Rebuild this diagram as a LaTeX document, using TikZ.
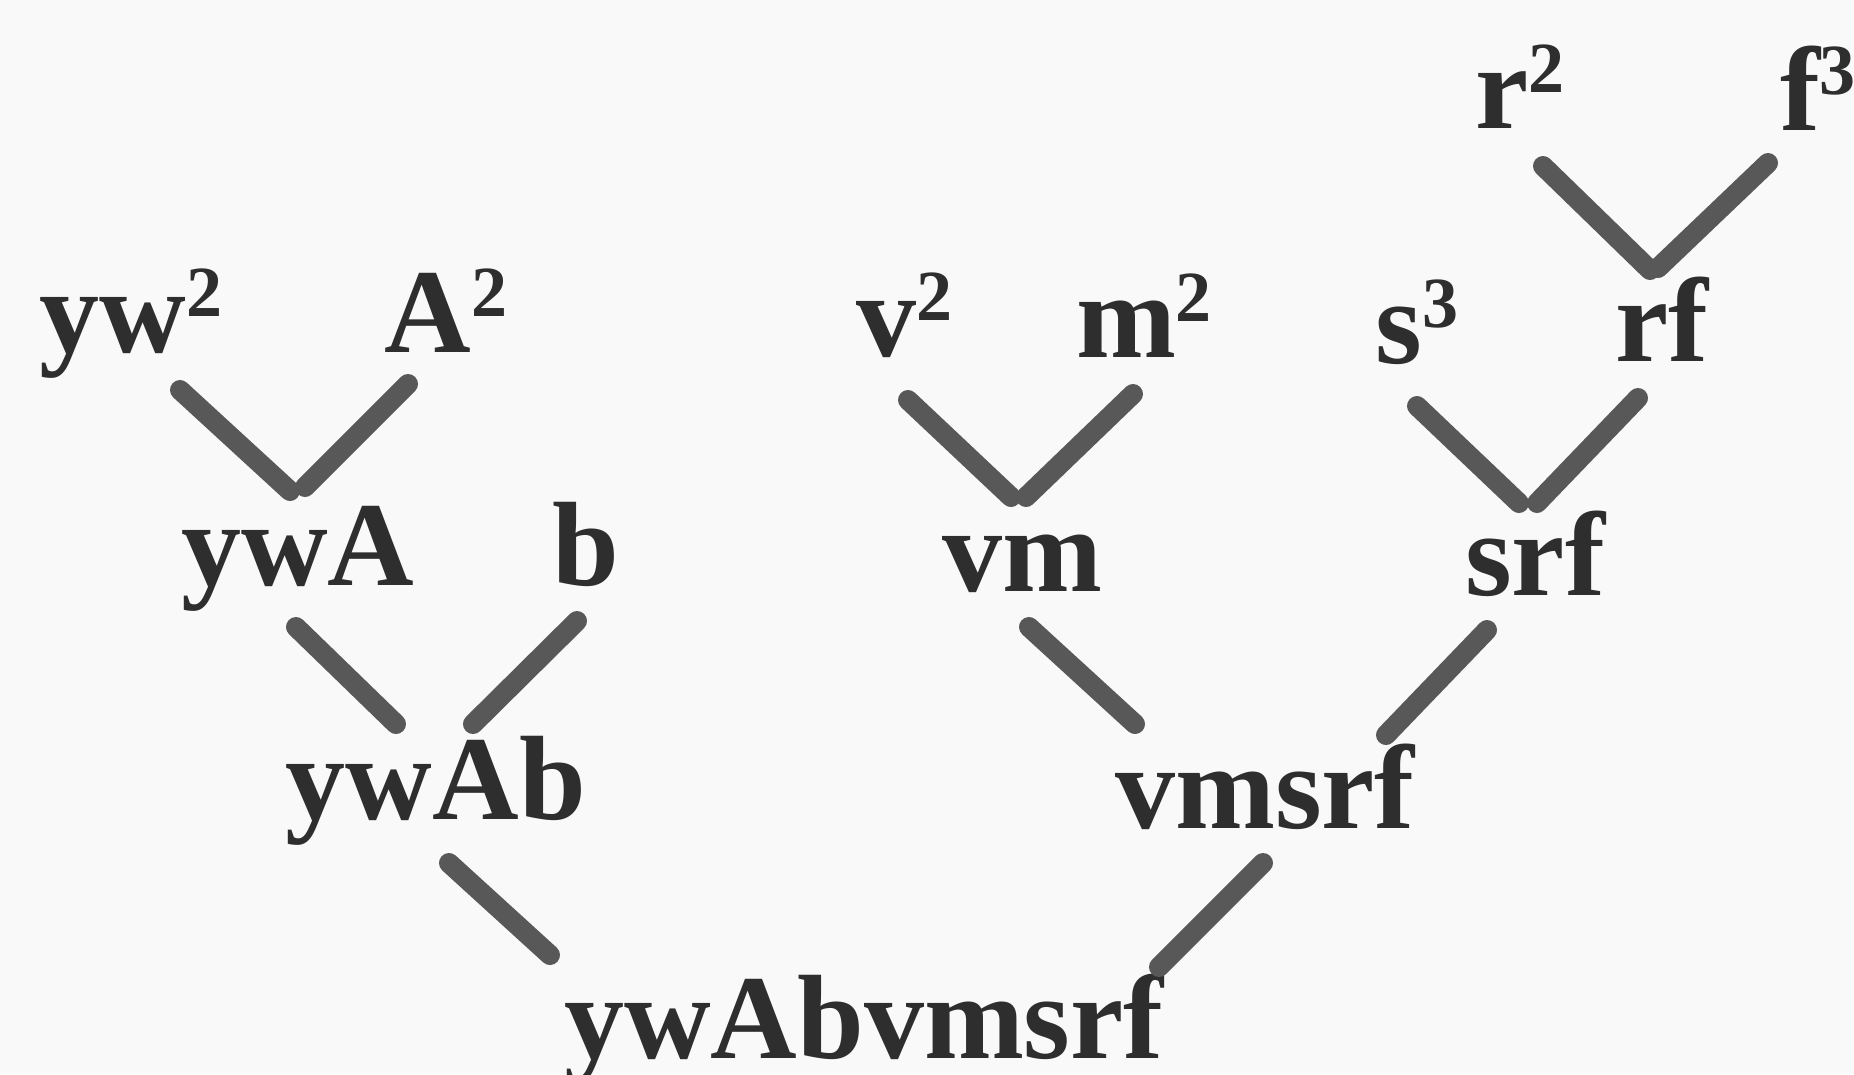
\documentclass[tikz,border=0pt]{standalone}
\usepackage{fontspec}
\setmainfont{Liberation Serif}
\definecolor{ink}{HTML}{2E2E2E}
\definecolor{paper}{HTML}{F9F9F9}
\newcommand{\sups}[1]{\raisebox{0.3em}{\fontsize{18}{18}\selectfont #1}}
\begin{document}
\begin{tikzpicture}[x=0.25pt,y=-0.25pt,
  lbl/.style={inner sep=0pt,outer sep=0pt,anchor=base,text=ink,
    font=\fontsize{30}{36}\selectfont\bfseries},
  link/.style={draw=ink!80,line width=5,line cap=round}]
\fill[paper] (0,0) rectangle (1854,1074);
\useasboundingbox (0,0) rectangle (1854,1074);
% row 1
\node[lbl] (r2) at (1520,128) {r\sups{2}};
\node[lbl,anchor=base west] (f3) at (1780,130) {f\sups{3}};
% row 2
\node[lbl] (yw2) at (131,352) {yw\sups{2}};
\node[lbl] (A2) at (446,352) {A\sups{2}};
\node[lbl] (v2) at (904,356) {v\sups{2}};
\node[lbl] (m2) at (1144,357) {m\sups{2}};
\node[lbl] (s3) at (1417,363) {s\sups{3}};
\node[lbl] (rf) at (1662,361) {rf};
% row 3
\node[lbl] (ywA) at (298,585) {ywA};
\node[lbl] (b) at (586,585) {b};
\node[lbl] (vm) at (1022,591) {vm};
\node[lbl] (srf) at (1535,595) {srf};
% row 4
\node[lbl] (ywAb) at (436,819) {ywAb};
\node[lbl] (vmsrf) at (1265,828) {vmsrf};
% row 5
\node[lbl] (root) at (864,1058) {ywAbvmsrf};
% connectors
\draw[link] ([shift={(23,38)}]r2.base) -- ([shift={(-12,-91)}]rf.base);
\draw[link] ([shift={(-12,33)}]f3.base west) -- ([shift={(-4,-93)}]rf.base);
\draw[link] ([shift={(49,38)}]yw2.base) -- ([shift={(-8,-94)}]ywA.base);
\draw[link] ([shift={(-38,32)}]A2.base) -- ([shift={(7,-98)}]ywA.base);
\draw[link] ([shift={(4,44)}]v2.base) -- ([shift={(-11,-94)}]vm.base);
\draw[link] ([shift={(-11,37)}]m2.base) -- ([shift={(4,-94)}]vm.base);
\draw[link] ([shift={(0,43)}]s3.base) -- ([shift={(-16,-92)}]srf.base);
\draw[link] ([shift={(-24,37)}]rf.base) -- ([shift={(2,-92)}]srf.base);
\draw[link] ([shift={(-2,42)}]ywA.base) -- ([shift={(-40,-95)}]ywAb.base);
\draw[link] ([shift={(-9,36)}]b.base) -- ([shift={(37,-95)}]ywAb.base);
\draw[link] ([shift={(7,36)}]vm.base) -- ([shift={(-130,-104)}]vmsrf.base);
\draw[link] ([shift={(-48,35)}]srf.base) -- ([shift={(121,-93)}]vmsrf.base);
\draw[link] ([shift={(13,44)}]ywAb.base) -- ([shift={(-314,-103)}]root.base);
\draw[link] ([shift={(-2,35)}]vmsrf.base) -- ([shift={(295,-91)}]root.base);
\end{tikzpicture}
\end{document}
